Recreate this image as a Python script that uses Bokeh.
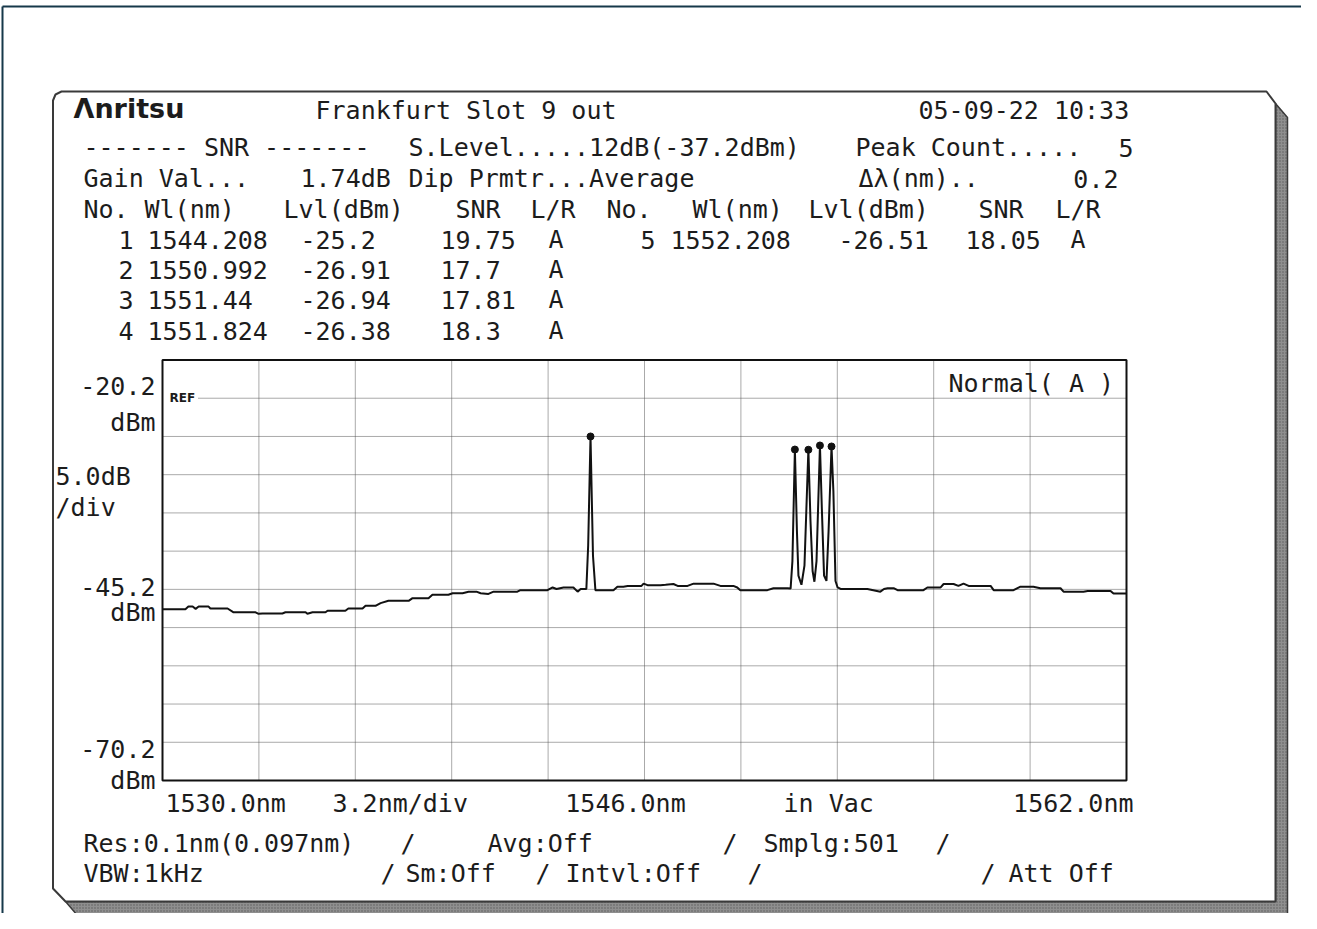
from bokeh.plotting import figure
from bokeh.models import Range1d
from bokeh.core.properties import value
from bokeh.embed import file_html
from bokeh.resources import INLINE

# ---------------- data ----------------
trace_nm = [1530.00, 1530.76, 1530.86, 1531.00, 1531.10, 1531.20, 1531.53, 1531.59, 1532.16,
            1532.36, 1533.09, 1533.19, 1533.32, 1533.98, 1534.08, 1534.75, 1534.81, 1534.98,
            1535.41, 1535.48, 1536.07, 1536.17, 1536.64, 1536.74, 1537.07, 1537.24, 1537.50,
            1538.17, 1538.30, 1538.83, 1538.96, 1539.49, 1539.63, 1539.96, 1540.16, 1540.42,
            1540.56, 1540.82, 1540.99, 1541.78, 1541.88, 1542.78, 1542.95, 1543.08, 1543.31,
            1543.64, 1543.78, 1543.88, 1544.07, 1544.13, 1544.208, 1544.29, 1544.37, 1544.97,
            1545.10, 1545.30, 1545.44, 1545.90, 1545.97, 1546.10, 1546.53, 1546.70, 1546.96,
            1547.10, 1547.43, 1547.63, 1548.29, 1548.52, 1548.95, 1549.08, 1549.18, 1550.08,
            1550.28, 1550.75, 1550.85, 1550.91, 1550.992, 1551.06, 1551.11, 1551.21, 1551.31,
            1551.44, 1551.51, 1551.58, 1551.64, 1551.71, 1551.824, 1551.89, 1551.96, 1552.04,
            1552.11, 1552.208, 1552.27, 1552.34, 1552.41, 1552.51, 1553.40, 1553.83, 1553.95,
            1554.07, 1554.27, 1554.40, 1555.26, 1555.39, 1555.83, 1555.93, 1556.26, 1556.42,
            1556.59, 1556.76, 1557.49, 1557.59, 1558.25, 1558.48, 1558.91, 1559.14, 1559.81,
            1559.91, 1560.57, 1560.71, 1561.47, 1561.57, 1562.00]
trace_dbm = [-47.8, -47.8, -47.45, -47.45, -47.75, -47.45, -47.45, -47.7, -47.7,
             -48.2, -48.2, -48.4, -48.35, -48.35, -48.2, -48.2, -48.4, -48.2,
             -48.2, -48.0, -48.0, -47.7, -47.7, -47.35, -47.35, -47.0, -46.7,
             -46.7, -46.35, -46.35, -45.9, -45.9, -45.7, -45.7, -45.5, -45.5,
             -45.7, -45.8, -45.5, -45.5, -45.3, -45.3, -44.95, -45.15, -44.95,
             -44.95, -45.5, -45.15, -45.15, -39.5, -25.2, -40.8, -45.3, -45.3,
             -44.85, -44.85, -44.75, -44.75, -44.45, -44.65, -44.65, -44.6, -44.5,
             -44.75, -44.75, -44.45, -44.45, -44.75, -44.75, -44.95, -45.3, -45.3,
             -45.05, -45.05, -45.1, -41.5, -26.91, -37.6, -43.4, -44.6, -42.1,
             -26.94, -36.25, -42.8, -44.2, -41.5, -26.38, -35.0, -43.4, -44.1,
             -37.6, -26.51, -32.35, -44.1, -44.95, -45.15, -45.15, -45.5, -45.15,
             -45.05, -45.05, -45.3, -45.3, -44.95, -44.95, -44.5, -44.5, -44.75,
             -44.45, -44.75, -44.75, -45.3, -45.3, -44.85, -44.85, -45.05, -45.05,
             -45.5, -45.5, -45.4, -45.4, -45.75, -45.75]

peak_no = [1, 2, 3, 4, 5]
peak_wl = [1544.208, 1550.992, 1551.44, 1551.824, 1552.208]
peak_lvl = [-25.2, -26.91, -26.94, -26.38, -26.51]
peak_snr = [19.75, 17.7, 17.81, 18.3, 18.05]
peak_lr = ["A", "A", "A", "A", "A"]

x_grid = [1533.2, 1536.4, 1539.6, 1542.8, 1546.0, 1549.2, 1552.4, 1555.6, 1558.8]
y_grid = [-20.2, -25.2, -30.2, -35.2, -40.2, -45.2, -50.2, -55.2, -60.2, -65.2]
x_tick_vals = [1530.0, 1546.0, 1562.0]
x_tick_text = ["1530.0nm", "1546.0nm", "1562.0nm"]
y_tick_vals = [-20.2, -45.2, -70.2]
y_tick_text = ["-20.2", "-45.2", "-70.2"]
ref_level = -20.2

X_MIN, X_MAX = 1530.0, 1562.0
Y_MIN, Y_MAX = -70.2, -15.2

# ---------------- layout ----------------
W, H = 1301, 913
OX, OY = 0, 0
PL, PR, PT, PB = 162.0, 1126.0, 359.5, 780.0

p = figure(width=W, height=H, x_range=Range1d(OX, OX + W), y_range=Range1d(OY + H, OY),
           output_backend="svg", toolbar_location=None, x_axis_type=None, y_axis_type=None,
           min_border=0, outline_line_color=None, background_fill_color="white",
           border_fill_color="white")
p.grid.visible = False

nm_per_px = (X_MAX - X_MIN) / (PR - PL)
db_per_px = (Y_MAX - Y_MIN) / (PB - PT)
p.extra_x_ranges = {"nm": Range1d(X_MIN - (PL - OX) * nm_per_px, X_MAX + (OX + W - PR) * nm_per_px)}
p.extra_y_ranges = {"db": Range1d(Y_MIN - (OY + H - PB) * db_per_px, Y_MAX + (PT - OY) * db_per_px)}
D = dict(x_range_name="nm", y_range_name="db")

MONO = "DejaVu Sans Mono"
INK = "#1c1c1c"


def txt(x, y, s, size="25px", align="left", font=MONO, style="normal", color=INK, **kw):
    p.text(x=[x], y=[y], text=[s], text_font=value(font), text_font_size=size,
           text_align=align, text_baseline="middle", text_color=color,
           text_font_style=style, **kw)


# outer frame of the picture
p.segment(x0=[2, 2], y0=[6, 6], x1=[W, 2], y1=[6, H],
          line_color="#16384a", line_width=2)

# screen panel with shadow
p.patch(x=[1275, 1287, 1287, 77, 65, 1275], y=[103, 117, 915, 915, 901, 901],
        fill_color="#8f8f8f", line_color="#3a3a3a", line_width=1.5,
        hatch_pattern="dot", hatch_color="#5c5c5c", hatch_scale=3)
p.patch(x=[52.5, 55, 61, 1266, 1275, 1275, 65, 52.5],
        y=[100, 94, 91, 91, 103, 901, 901, 888],
        fill_color="white", line_color="#3a3a3a", line_width=2)

# plot box, grid
p.quad(left=[X_MIN], right=[X_MAX], bottom=[Y_MIN], top=[Y_MAX], fill_color="white",
       line_color=None, **D)
p.segment(x0=x_grid, x1=x_grid, y0=[Y_MIN] * len(x_grid), y1=[Y_MAX] * len(x_grid),
          line_color="#555555", line_width=1, line_dash="1 1", **D)
hx0 = [X_MIN + (36 if v == ref_level else 0) * nm_per_px for v in y_grid]
p.segment(x0=hx0, x1=[X_MAX] * len(y_grid), y0=y_grid, y1=y_grid,
          line_color="#555555", line_width=1, line_dash="1 1", **D)
p.quad(left=[X_MIN], right=[X_MAX], bottom=[Y_MIN], top=[Y_MAX], fill_color=None,
       line_color="#111111", line_width=2, **D)

# trace and peak markers
p.line(trace_nm, trace_dbm, line_color="#111111", line_width=2, **D)
p.scatter(peak_wl, peak_lvl, marker="circle", size=7, color="#111111", **D)

# axis texts
txt(X_MIN, ref_level, "REF", size="12px", font="DejaVu Sans", style="bold", x_offset=7, **D)
p.text(x=[PL - 7] * 3, y=y_tick_vals, text=y_tick_text, text_font=value(MONO),
       text_font_size="25px", text_align="right", text_baseline="middle", text_color=INK,
       y_offset=[-12, -2, -32], x_range_name="default", y_range_name="db")
p.text(x=[PL - 7] * 3, y=y_tick_vals, text=["dBm"] * 3, text_font=value(MONO),
       text_font_size="25px", text_align="right", text_baseline="middle", text_color=INK,
       y_offset=[24, 23, 0], x_range_name="default", y_range_name="db")
txt(55, 476, "5.0dB")
txt(55, 507, "/div")
p.text(x=x_tick_vals, y=[Y_MIN] * 3, text=x_tick_text, text_font=value(MONO),
       text_font_size="25px", text_align=["left", "center", "right"], text_baseline="middle",
       text_color=INK, x_offset=[3, -19, 7], y_offset=[23, 23, 23], **D)
txt(332, 803, "3.2nm/div")
txt(783, 803, "in Vac")
txt(948, 383, "Normal( A )")

# header
txt(73, 108, "\u039bnritsu", size="27px", font="DejaVu Sans", style="bold")
txt(315, 110, "Frankfurt Slot 9 out")
txt(918, 110, "05-09-22 10:33")
txt(83, 147, "------- SNR -------")
txt(408, 147, "S.Level.....12dB(-37.2dBm)")
txt(855, 147, "Peak Count.....")
txt(1133, 147, "5", align="right")
txt(83, 178, "Gain Val...")
txt(300, 178, "1.74dB")
txt(408, 178, "Dip Prmtr...Average")
txt(858, 178, "\u0394\u03bb(nm)..")
txt(1118, 178, "0.2", align="right")

hdr = ["No.", "Wl(nm)", "Lvl(dBm)", "SNR", "L/R"]
hdr_x = [[83, 144, 283, 455, 530], [606, 692, 808, 978, 1055]]
for cx in hdr_x:
    for s, x in zip(hdr, cx):
        txt(x, 209, s)

row_y = [239, 269, 299, 330]
col_x = [(133, 147, 300, 440, 548), (655, 670, 838, 965, 1070)]
for i in range(len(peak_no)):
    c = 0 if i < 4 else 1
    r = i if i < 4 else 0
    xs = col_x[c]
    y = row_y[r]
    txt(xs[0], y, str(peak_no[i]), align="right")
    txt(xs[1], y, str(peak_wl[i]))
    txt(xs[2], y, str(peak_lvl[i]))
    txt(xs[3], y, str(peak_snr[i]))
    txt(xs[4], y, peak_lr[i])

# footer
txt(83, 843, "Res:0.1nm(0.097nm)")
txt(400, 843, "/")
txt(487, 843, "Avg:Off")
txt(722, 843, "/")
txt(763, 843, "Smplg:501")
txt(935, 843, "/")
txt(83, 873, "VBW:1kHz")
txt(380, 873, "/")
txt(405, 873, "Sm:Off")
txt(535, 873, "/")
txt(565, 873, "Intvl:Off")
txt(747, 873, "/")
txt(980, 873, "/")
txt(1008, 873, "Att Off")

open("out.html", "w").write(file_html(p, INLINE))
